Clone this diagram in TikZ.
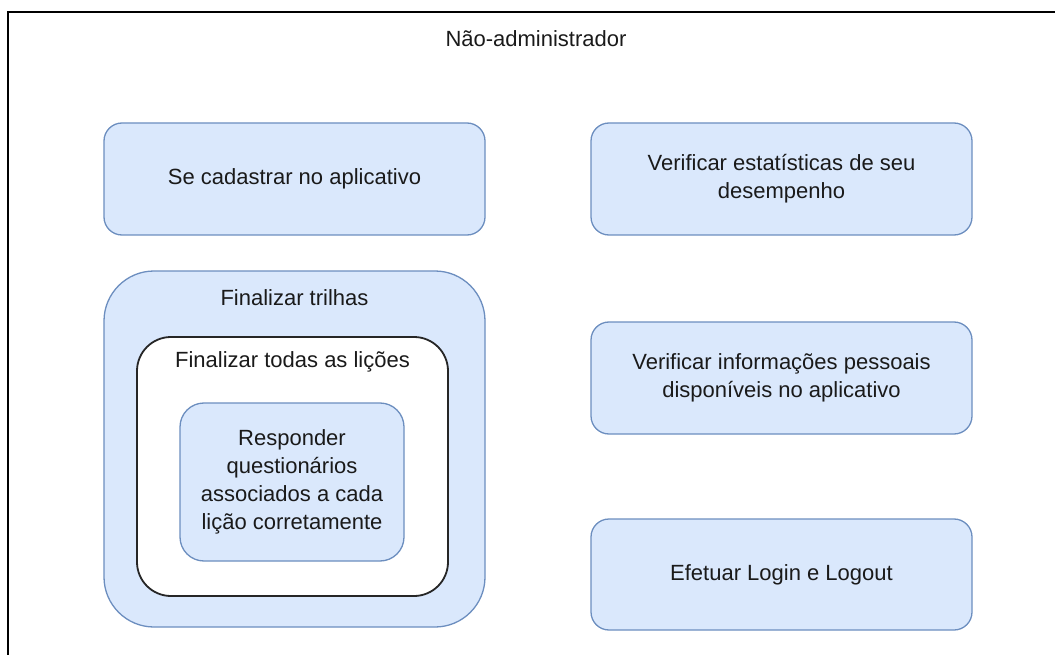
\documentclass[tikz,border=0pt]{standalone}
\usepackage{fontspec}
\setmainfont{Liberation Sans}
\definecolor{bfill}{HTML}{DAE8FC}
\definecolor{bdraw}{HTML}{6C8EBF}
\definecolor{txt}{HTML}{1A1A1A}
\begin{document}
\begin{tikzpicture}[x=1pt,y=-1pt,
  every node/.style={font=\fontsize{22}{28}\selectfont,text=txt,align=center,inner sep=0pt},
  bluebox/.style={draw=bdraw,fill=bfill,line width=1.3pt},
  blackbox/.style={draw=black!85,fill=white,line width=1.8pt}]
\useasboundingbox (0,0) rectangle (1055,655);
\begin{scope}
\clip (0,0) rectangle (1055,655);
\draw[line width=2pt] (8,670) -- (8,12) -- (1070,12);
\end{scope}
\node (title) at (536,39) {Não-administrador};
% left top
\draw[bluebox,rounded corners=18pt] (104,123) rectangle (485,235);
\node (cad) at (294.5,179) {Se cadastrar no aplicativo};
% right top
\draw[bluebox,rounded corners=18pt] (591,123) rectangle (972,235);
\node (est) at (781.5,179) {Verificar estatísticas de seu\\desempenho};
% big box
\draw[bluebox,rounded corners=50pt] (104,271) rectangle (485,627);
\node (trilhas) at (294.5,298) {Finalizar trilhas};
\draw[blackbox,rounded corners=34pt] (137,337) rectangle (448,596);
\node (licoes) at (292.5,362) {Finalizar todas as lições};
\draw[bluebox,rounded corners=24pt] (180,403) rectangle (404,561);
\node (resp) at (292,482) {Responder\\questionários\\associados a cada\\lição corretamente};
% right middle
\draw[bluebox,rounded corners=18pt] (591,322) rectangle (972,434);
\node (info) at (781.5,378) {Verificar informações pessoais\\disponíveis no aplicativo};
% right bottom
\draw[bluebox,rounded corners=18pt] (591,519) rectangle (972,630);
\node (login) at (781.5,575) {Efetuar Login e Logout};
\end{tikzpicture}
\end{document}
